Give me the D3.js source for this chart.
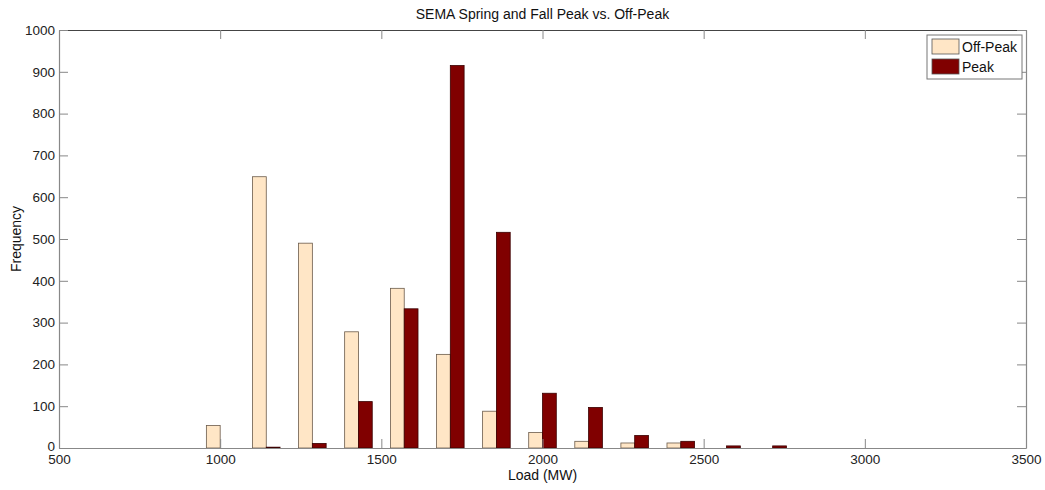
<!DOCTYPE html>
<html>
<head>
<meta charset="utf-8">
<script src="https://cdn.jsdelivr.net/npm/d3@7"></script>
<style>
  body { margin: 0; background: #fff; }
  svg { font-family: Arial, "Liberation Sans", sans-serif; }
</style>
</head>
<body>
<svg id="chart" width="1045" height="490"></svg>
<script>
// bin centres (MW) and counts
const loadBins = [1000, 1143, 1286, 1429, 1571, 1714, 1857, 2000, 2143, 2286, 2429, 2571, 2714];
const offPeak = [54, 649, 490, 278, 382, 224, 88, 37, 16, 12, 12, 0, 0];
const peak = [0, 2, 11, 111, 333, 915, 516, 131, 97, 30, 16, 5, 5];
const seriesNames = ['Off-Peak', 'Peak'];
const seriesColors = ['#FFE6C6', '#800000'];
const xTicks = [500, 1000, 1500, 2000, 2500, 3000, 3500];
const yTicks = [0, 100, 200, 300, 400, 500, 600, 700, 800, 900, 1000];

const margin = { left: 59, right: 19, top: 30, bottom: 42 };
const width = 1045, height = 490;

const svg = d3.select('#chart');

const x = d3.scaleLinear().domain([500, 3500]).range([margin.left, width - margin.right]);
const y = d3.scaleLinear().domain([0, 1000]).range([height - margin.bottom, margin.top]);

// bar width in data units (two bars per bin, side by side)
const barW = 42.8;
const series = [offPeak, peak];

series.forEach((vals, s) => {
  svg.append('g')
    .selectAll('rect')
    .data(loadBins.map((b, i) => ({ b, v: vals[i] })).filter(d => d.v > 0))
    .enter()
    .append('rect')
    .attr('x', d => x(d.b + (s - 1) * barW))
    .attr('width', d => x(d.b + s * barW) - x(d.b + (s - 1) * barW))
    .attr('y', d => y(d.v))
    .attr('height', d => y(0) - y(d.v))
    .attr('fill', seriesColors[s])
    .attr('stroke', s === 0 ? '#6b5b4b' : '#3a0000')
    .attr('stroke-width', 0.8);
});

// axes, MATLAB style ticks pointing inward on all four sides
const tickLen = 9;
const axisCol = '#888';
const fmt = d3.format('d');

const axB = svg.append('g').attr('transform', `translate(0,${y(0)})`)
  .call(d3.axisBottom(x).tickValues(xTicks).tickFormat(fmt).tickSizeInner(-tickLen).tickSizeOuter(0).tickPadding(4));
const axT = svg.append('g').attr('transform', `translate(0,${y(1000)})`)
  .call(d3.axisTop(x).tickValues(xTicks).tickSizeInner(-tickLen).tickSizeOuter(0).tickFormat(''));
const axL = svg.append('g').attr('transform', `translate(${x(500)},0)`)
  .call(d3.axisLeft(y).tickValues(yTicks).tickFormat(fmt).tickSizeInner(-tickLen).tickSizeOuter(0).tickPadding(4));
const axR = svg.append('g').attr('transform', `translate(${x(3500)},0)`)
  .call(d3.axisRight(y).tickValues(yTicks).tickSizeInner(-tickLen).tickSizeOuter(0).tickFormat(''));

[axB, axT, axL, axR].forEach(a => {
  a.selectAll('.domain').attr('stroke', axisCol).attr('stroke-width', 1.2);
  a.selectAll('.tick line').attr('stroke', axisCol);
  a.selectAll('.tick text').attr('fill', '#222').style('font-size', '13.5px');
});
axT.select('.domain').attr('stroke', '#444');
axB.selectAll('.tick text').attr('y', 11.5).attr('dy', '0.35em');
// the "0" label sits a touch above the axis, as in the original
axL.selectAll('.tick text').filter(d => d === 0).attr('dy', '0.2em');

// titles
svg.append('text')
  .attr('x', (x(500) + x(3500)) / 2).attr('y', 19)
  .attr('text-anchor', 'middle')
  .style('font-size', '14px').attr('fill', '#111')
  .text('SEMA Spring and Fall Peak vs. Off-Peak');

svg.append('text')
  .attr('x', (x(500) + x(3500)) / 2).attr('y', 480)
  .attr('text-anchor', 'middle')
  .style('font-size', '14px').attr('fill', '#111')
  .text('Load (MW)');

svg.append('text')
  .attr('transform', `translate(21,${(y(0) + y(1000)) / 2}) rotate(-90)`)
  .attr('text-anchor', 'middle')
  .style('font-size', '14px').attr('fill', '#111')
  .text('Frequency');

// legend
const lg = svg.append('g').attr('transform', 'translate(927,35)');
lg.append('rect').attr('width', 95).attr('height', 44)
  .attr('fill', '#fff').attr('stroke', '#777');
seriesNames.forEach((name, i) => {
  lg.append('rect')
    .attr('x', 5).attr('y', 4 + i * 20)
    .attr('width', 27).attr('height', 15)
    .attr('fill', seriesColors[i]).attr('stroke', '#555').attr('stroke-width', 0.8);
  lg.append('text')
    .attr('x', 35).attr('y', 12 + i * 20).attr('dy', '0.35em')
    .style('font-size', '14px').attr('fill', '#111')
    .text(name);
});
</script>
</body>
</html>
